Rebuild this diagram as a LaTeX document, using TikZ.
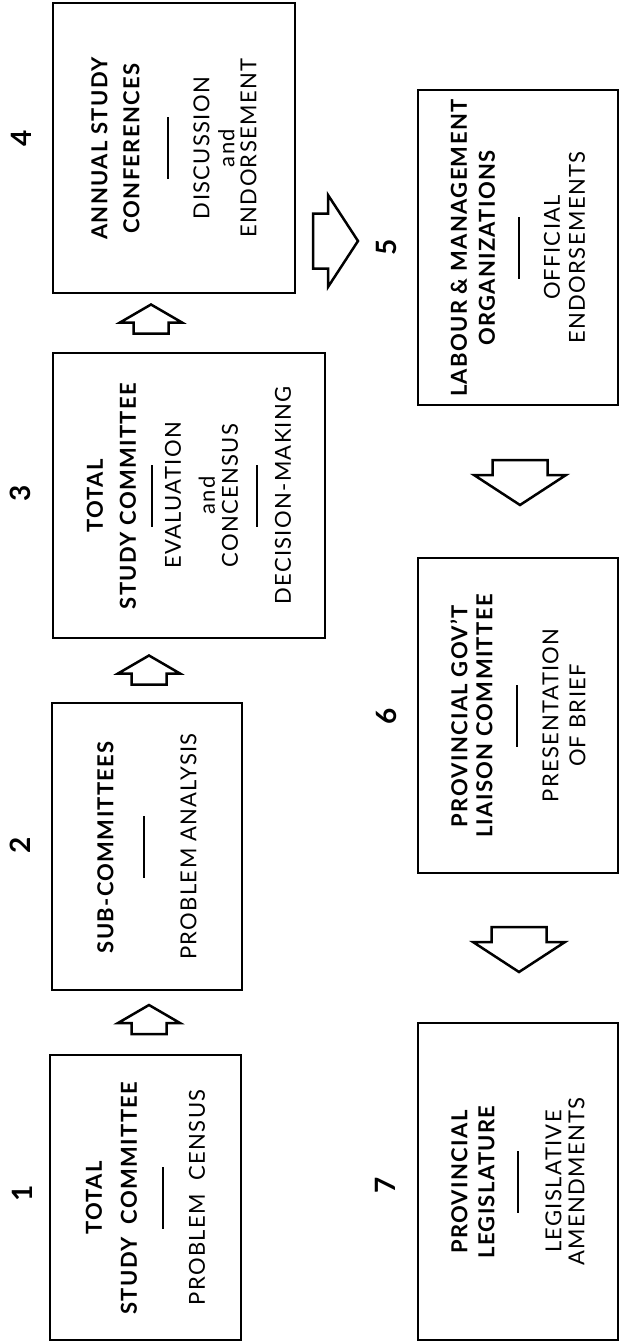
\documentclass[tikz,border=0pt]{standalone}
\usepackage{fontspec}
\setmainfont{Lato}[LetterSpace=6]
\newcommand{\divline}{\raisebox{7pt}{\rule{62pt}{2pt}}}
\tikzset{
  box/.style={draw, line width=2.5pt, rotate=90, align=center, inner sep=0pt,
    font=\fontsize{22}{26}\selectfont},
  num/.style={rotate=90, font=\fontsize{28}{28}\selectfont\bfseries},
  smallarr/.pic={\draw[line width=2.5pt, line join=miter]
    (-14.5,-17.5) -- (-3.5,-17.5) -- (-3.5,-31) -- (14.5,0) -- (-3.5,31) -- (-3.5,17.5) -- (-14.5,17.5) -- cycle;},
  bigarr/.pic={\draw[line width=2.5pt, line join=miter]
    (-22.5,-27.5) -- (-7.5,-27.5) -- (-7.5,-46) -- (22.5,0) -- (-7.5,46) -- (-7.5,27.5) -- (-22.5,27.5) -- cycle;}
}
\begin{document}
\begin{tikzpicture}[x=1pt,y=-1pt]
  \useasboundingbox (0,0) rectangle (620,1343);
  % left column, bottom to top
  \node[box, minimum width=285, minimum height=191] (b1) at (145.5,1197.5)
    {\textbf{TOTAL}\\[9pt]\textbf{STUDY~~COMMITTEE}\\[8pt]\divline\\[8pt]PROBLEM~~CENSUS};
  \node[box, minimum width=287, minimum height=190] (b2) at (147,846.5)
    {\textbf{SUB-COMMITTEES}\\[13pt]\divline\\[18pt]PROBLEM~ANALYSIS};
  \node[box, minimum width=285, minimum height=272] (b3) at (189,495.5)
    {\textbf{TOTAL}\\[7pt]\textbf{STUDY~COMMITTEE}\\[-2pt]\divline\\[-5pt]EVALUATION\\[8pt]and\\[-3pt]CONCENSUS\\[1pt]\divline\\[0pt]DECISION-MAKING};
  \node[box, minimum width=290, minimum height=242] (b4) at (174,148)
    {\textbf{ANNUAL~STUDY}\\[6pt]\textbf{CONFERENCES}\\[11pt]\divline\\[7pt]DISCUSSION\\[-1pt]and\\[-4pt]ENDORSEMENT};
  % right column, top to bottom
  \node[box, minimum width=315, minimum height=200] (b5) at (518,247.5)
    {\textbf{LABOUR \& MANAGEMENT}\\[2pt]\textbf{ORGANIZATIONS}\\[6pt]\divline\\[7pt]OFFICIAL\\[-1pt]ENDORSEMENTS};
  \node[box, minimum width=315, minimum height=200] (b6) at (518,715.5)
    {\textbf{PROVINCIAL~GOV'T}\\[-1pt]\textbf{LIAISON~COMMITTEE}\\[7pt]\divline\\[7pt]PRESENTATION\\[1pt]OF~BRIEF};
  \node[box, minimum width=317, minimum height=200] (b7) at (518,1181.5)
    {\textbf{PROVINCIAL}\\[1pt]\textbf{LEGISLATURE}\\[6pt]\divline\\[9pt]LEGISLATIVE\\[-3pt]AMENDMENTS};
  % step numbers
  \node[num] (n1) at (22,1193) {1};
  \node[num] (n2) at (20,845) {2};
  \node[num] (n3) at (20,493) {3};
  \node[num] (n4) at (21,138) {4};
  \node[num] (n5) at (386,247) {5};
  \node[num] (n6) at (386,716) {6};
  \node[num] (n7) at (385,1185) {7};
  % block arrows
  \pic[rotate=90] at (149,1019.5) {smallarr};
  \pic[rotate=90] at (149,670) {smallarr};
  \pic[rotate=90] at (151,319) {smallarr};
  \pic at (335.5,241) {bigarr};
  \pic[rotate=-90] at (520,482.5) {bigarr};
  \pic[rotate=-90] at (519,949.5) {bigarr};
\end{tikzpicture}
\end{document}
